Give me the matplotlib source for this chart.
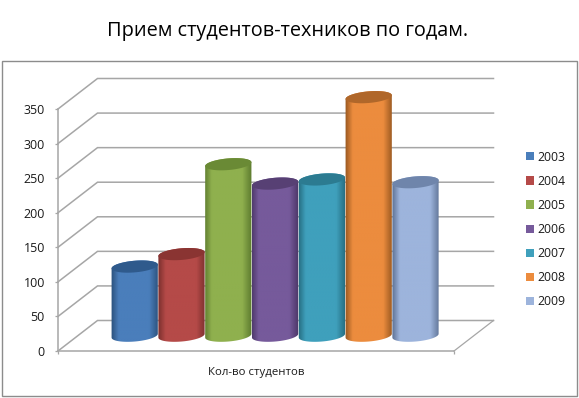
import numpy as np
import matplotlib
matplotlib.use("Agg")
import matplotlib.pyplot as plt
from matplotlib.patches import Polygon, Patch, Rectangle
from matplotlib.colors import LinearSegmentedColormap

years = ["2003", "2004", "2005", "2006", "2007", "2008", "2009"]
students = [100, 118, 248, 220, 226, 345, 222]
colors = ["#4A7EBB", "#B54A48", "#8FB04E", "#765A9B", "#3FA0BC", "#EC8C3E", "#9DB4DC"]
tops = ["#2F5A8C", "#8A3432", "#6A8A35", "#574074", "#2C7B91", "#B0672A", "#6F85AB"]
edges = ["#2A4F7A", "#7A2F2D", "#5C7A2E", "#4A3566", "#246A7E", "#96561F", "#5D7194"]
yticks = [0, 50, 100, 150, 200, 250, 300, 350]
title = "Прием студентов-техников по годам."
xlabel = "Кол-во студентов"

plt.rcParams["font.family"] = ["Open Sans", "DejaVu Sans"]
W, H = 579, 398
PX_Y = 242 / 350          # pixels per student
PX_X = 46.8               # pixels per category
X0, Y0 = 134.7, 351       # pixel of category 0 / value 0
sx, sy = 1 / PX_X, 1 / PX_Y

fig = plt.figure(figsize=(W / 100, H / 100), dpi=100, facecolor="white")
ax = fig.add_axes([0, 0, 1, 1])
ax.set_xlim(-X0 * sx, (W - X0) * sx)
ax.set_ylim((Y0 - H) * sy, Y0 * sy)
ax.patch.set_alpha(0)

GRID = "#A6A6A6"
left, right = (58 - X0) * sx, (454 - X0) * sx
ddx, ddy = 39.5 * sx, 30.5 * sy

# chart frame
ax.add_patch(Rectangle((1.5 * sx - X0 * sx, (Y0 - 396) * sy), 575.5 * sx, 335 * sy,
                       fill=False, ec="#8C8C8C", lw=1.0, zorder=0))

# walls and gridlines
for v in yticks:
    ax.plot([left, left + ddx, right + ddx], [v, v + ddy, v + ddy], color=GRID, lw=1.1, zorder=1,
            solid_joinstyle="miter")
ax.plot([right, right + ddx], [0, ddy], color=GRID, lw=0.9, zorder=1)

for s in ["top", "right"]:
    ax.spines[s].set_visible(False)
ax.spines["left"].set_position(("data", left))
ax.spines["left"].set_bounds(0, 350)
ax.spines["bottom"].set_position(("data", 0))
ax.spines["bottom"].set_bounds(left, right)
for s in ["left", "bottom"]:
    ax.spines[s].set_color(GRID)
    ax.spines[s].set_linewidth(1.1)
ax.set_yticks(yticks)
ax.set_xticks([left, right])
ax.set_xticklabels([])
ax.tick_params(axis="both", length=2.5, width=0.9, color=GRID)
ax.tick_params(axis="y", labelsize=9.0, labelcolor="#1a1a1a", pad=7)

# cylinders
a, b = 23.2, 5.8
theta = np.deg2rad(5.0)


def ellipse(cx, cy, t):
    dx = a * np.cos(t) * np.cos(theta) - b * np.sin(t) * np.sin(theta)
    dy = a * np.cos(t) * np.sin(theta) + b * np.sin(t) * np.cos(theta)
    return cx + dx * sx, cy + dy * sy


base = 15.3 * sy  # centre of the bottom ellipse above the value axis
for i, (v, c, tc, ec) in enumerate(zip(students, colors, tops, edges)):
    t_up = np.linspace(0, np.pi, 50)
    ux, uy = ellipse(i, base + v, t_up)
    bx, by = ellipse(i, base, np.linspace(-np.pi, 0, 50))
    body = np.column_stack([np.r_[bx, ux], np.r_[by, uy]])
    cmap = LinearSegmentedColormap.from_list(
        f"c{i}", [(0, ec), (0.16, c), (0.8, c), (1, ec)])
    grad = np.linspace(0, 1, 128)[None, :]
    z = 3 + i * 0.1
    im = ax.imshow(grad, cmap=cmap, aspect="auto", zorder=z,
                   extent=(i - 24 * sx, i + 24 * sx, base - 8 * sy, base + v + 8 * sy))
    clip = Polygon(body, closed=True, transform=ax.transData, fc="none", ec="none", zorder=z)
    ax.add_patch(clip)
    im.set_clip_path(clip)
    tx, ty = ellipse(i, base + v, np.linspace(0, 2 * np.pi, 100))
    ax.add_patch(Polygon(np.column_stack([tx, ty]), closed=True, fc=tc, ec="none", zorder=z + 0.01))

ax.set_xlim(-X0 * sx, (W - X0) * sx)
ax.set_ylim((Y0 - H) * sy, Y0 * sy)

# texts
ax.text((256 - X0) * sx, (Y0 - 372) * sy, xlabel, ha="center", va="center", fontsize=8.2, color="#1a1a1a")
fig.text(288 / W, 1 - 31 / H, title, ha="center", va="center", fontsize=14.35, color="black")

# legend
handles = [Patch(fc=c, ec="none", label=y) for c, y in zip(colors, years)]
leg = ax.legend(handles=handles, loc="center left", bbox_to_anchor=(526 / W, 1 - 229.5 / H),
                frameon=False, fontsize=8.8, borderpad=0, borderaxespad=0,
                labelspacing=0.91, handlelength=0.66, handleheight=0.66, handletextpad=0.25)
for t in leg.get_texts():
    t.set_color("#1a1a1a")

fig.savefig("out.png", dpi=100, facecolor="white")
